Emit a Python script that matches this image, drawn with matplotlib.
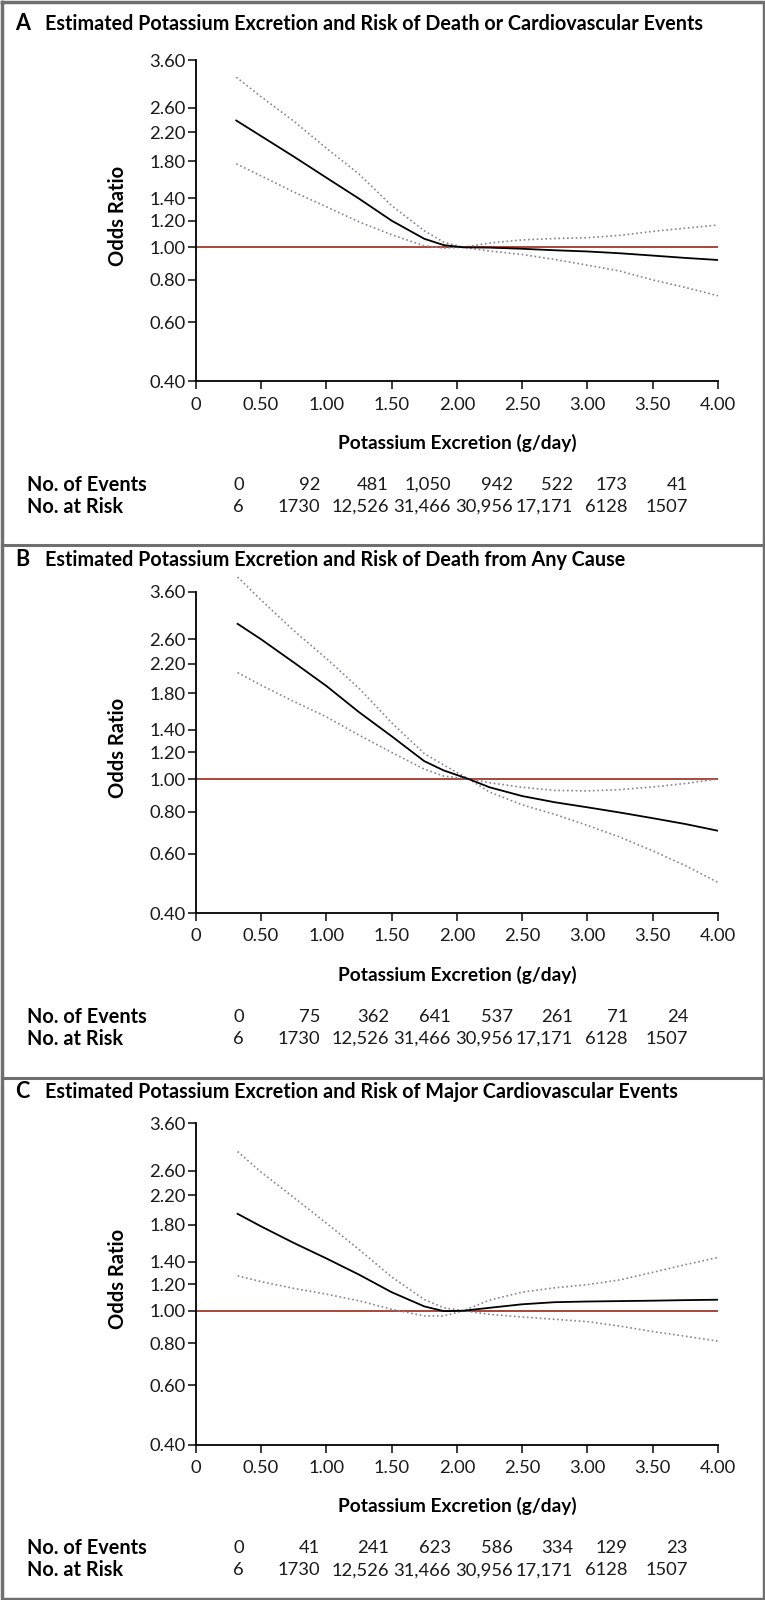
import numpy as np
import matplotlib
matplotlib.use("Agg")
import matplotlib.pyplot as plt
from matplotlib.lines import Line2D

plt.rcParams['font.family'] = ['Lato', 'DejaVu Sans']

# ---- data ----
titles = ["Estimated Potassium Excretion and Risk of Death or Cardiovascular Events",
          "Estimated Potassium Excretion and Risk of Death from Any Cause",
          "Estimated Potassium Excretion and Risk of Major Cardiovascular Events"]
letters = ["A", "B", "C"]

x_a = [0.31, 0.5, 0.75, 1.0, 1.25, 1.5, 1.75, 1.9, 2.05, 2.25, 2.5, 2.75, 3.0, 3.25, 3.5, 3.75, 4.0]
or_a = [2.38, 2.14, 1.86, 1.61, 1.395, 1.20, 1.06, 1.015, 1.0, 0.998, 0.99, 0.98, 0.972, 0.96, 0.945, 0.93, 0.917]
hi_a = [3.20, 2.80, 2.37, 1.97, 1.65, 1.33, 1.12, 1.035, 1.0, 1.03, 1.052, 1.062, 1.068, 1.085, 1.115, 1.14, 1.165]
lo_a = [1.77, 1.63, 1.46, 1.32, 1.19, 1.09, 1.01, 0.995, 1.0, 0.975, 0.952, 0.92, 0.885, 0.85, 0.80, 0.76, 0.718]

x_b = [0.32, 0.5, 0.75, 1.0, 1.25, 1.5, 1.75, 1.9, 2.09, 2.25, 2.5, 2.75, 3.0, 3.25, 3.5, 3.75, 4.0]
or_b = [2.89, 2.60, 2.22, 1.89, 1.58, 1.34, 1.13, 1.06, 1.0, 0.945, 0.89, 0.853, 0.824, 0.795, 0.765, 0.735, 0.702]
hi_b = [3.98, 3.40, 2.76, 2.28, 1.86, 1.47, 1.19, 1.10, 1.0, 0.975, 0.945, 0.925, 0.922, 0.93, 0.947, 0.97, 1.0]
lo_b = [2.07, 1.90, 1.70, 1.53, 1.35, 1.20, 1.07, 1.02, 1.0, 0.915, 0.838, 0.785, 0.728, 0.672, 0.612, 0.553, 0.493]

x_c = [0.32, 0.5, 0.75, 1.0, 1.25, 1.5, 1.75, 1.9, 2.05, 2.25, 2.5, 2.75, 3.0, 3.25, 3.5, 3.75, 4.0]
or_c = [1.94, 1.78, 1.59, 1.43, 1.28, 1.135, 1.03, 0.997, 1.0, 1.02, 1.045, 1.06, 1.065, 1.068, 1.071, 1.075, 1.078]
hi_c = [2.97, 2.58, 2.17, 1.82, 1.52, 1.26, 1.08, 1.02, 1.0, 1.075, 1.135, 1.17, 1.195, 1.235, 1.30, 1.37, 1.44]
lo_c = [1.27, 1.22, 1.165, 1.12, 1.07, 1.01, 0.965, 0.965, 1.0, 0.975, 0.958, 0.943, 0.928, 0.90, 0.867, 0.84, 0.812]

events_a = ["0", "92", "481", "1,050", "942", "522", "173", "41"]
events_b = ["0", "75", "362", "641", "537", "261", "71", "24"]
events_c = ["0", "41", "241", "623", "586", "334", "129", "23"]
at_risk = ["6", "1730", "12,526", "31,466", "30,956", "17,171", "6128", "1507"]

y_ticks = [0.40, 0.60, 0.80, 1.00, 1.20, 1.40, 1.80, 2.20, 2.60, 3.60]
x_ticks = [0, 0.5, 1.0, 1.5, 2.0, 2.5, 3.0, 3.5, 4.0]
x_ticklabels = ["0", "0.50", "1.00", "1.50", "2.00", "2.50", "3.00", "3.50", "4.00"]

panels = [
    (x_a, or_a, hi_a, lo_a, events_a),
    (x_b, or_b, hi_b, lo_b, events_b),
    (x_c, or_c, hi_c, lo_c, events_c),
]

# ---- layout (pixels) ----
W, H = 765, 1600
pitch = 531.7
ax_left, ax_right = 195.8, 718.0
ax_top, ax_bot = 60.0, 381.3
col_px = [244, 320, 389, 451, 513, 573, 628, 688]
title_y = [24, 560, 1092]
sep_y = [545, 1078]

red = '#a8463a'
dot_col = '#8a8299'
frame_col = '#6f6f6f'

fig = plt.figure(figsize=(W / 100, H / 100), dpi=100)


def fy(y):
    return 1 - y / H


def fx(x):
    return x / W


for i, (xs, mid, hi, lo, ev) in enumerate(panels):
    off = i * pitch
    ax = fig.add_axes([fx(ax_left), fy(ax_bot + off), (ax_right - ax_left) / W, (ax_bot - ax_top) / H])
    ax.set_yscale('log')
    ax.set_xlim(0, 4)
    ax.set_ylim(0.4, 3.6)

    ax.axhline(1.0, color=red, lw=1.4, zorder=1)
    ax.plot(xs, hi, color=dot_col, lw=1.2, linestyle=(0, (1, 1.6)), clip_on=False, zorder=2)
    ax.plot(xs, lo, color=dot_col, lw=1.2, linestyle=(0, (1, 1.6)), clip_on=False, zorder=2)
    ax.plot(xs, mid, color='black', lw=1.3, zorder=3)

    ax.yaxis.set_major_locator(matplotlib.ticker.FixedLocator(y_ticks))
    ax.yaxis.set_minor_locator(matplotlib.ticker.NullLocator())
    ax.set_yticklabels(["%.2f" % t for t in y_ticks])
    ax.set_xticks(x_ticks)
    ax.set_xticklabels(x_ticklabels)

    for s in ['top', 'right']:
        ax.spines[s].set_visible(False)
    for s in ['left', 'bottom']:
        ax.spines[s].set_linewidth(1.3)
    ax.tick_params(axis='both', direction='out', length=6, width=1.2, labelsize=13.2, pad=1.5,
                   colors='#1a1a1a')
    ax.tick_params(axis='x', pad=5)
    ax.set_facecolor('none')

    # titles and labels
    fig.text(fx(15), fy(title_y[i]), letters[i], fontsize=15.5, fontweight='bold', va='center', ha='left')
    fig.text(fx(45), fy(title_y[i]), titles[i], fontsize=14.2, fontweight='bold', va='center', ha='left')
    fig.text(fx(118), fy(off + 216), "Odds Ratio", fontsize=14.5, fontweight='bold', rotation=90,
             va='center', ha='center')
    fig.text(fx(457), fy(off + 443), "Potassium Excretion (g/day)", fontsize=13.8, fontweight='bold',
             va='center', ha='center')

    # table
    fig.text(fx(27), fy(off + 485), "No. of Events", fontsize=14.3, fontweight='bold', va='center', ha='left')
    fig.text(fx(27), fy(off + 507), "No. at Risk", fontsize=14.3, fontweight='bold', va='center', ha='left')
    for cx, e, r in zip(col_px, ev, at_risk):
        fig.text(fx(cx), fy(off + 485), e, fontsize=13.2, color='#1a1a1a', va='center', ha='right')
        fig.text(fx(cx), fy(off + 507), r, fontsize=13.2, color='#1a1a1a', va='center', ha='right')

# frame and separators
for yy in sep_y:
    fig.add_artist(Line2D([fx(2), fx(W - 2)], [fy(yy), fy(yy)], color=frame_col, lw=2.2))
fig.add_artist(Line2D([fx(1.5), fx(W - 1.5), fx(W - 1.5), fx(1.5), fx(1.5)],
                      [fy(1.5), fy(1.5), fy(H - 1.5), fy(H - 1.5), fy(1.5)],
                      color=frame_col, lw=2.5))

fig.savefig("out.png", dpi=100)
